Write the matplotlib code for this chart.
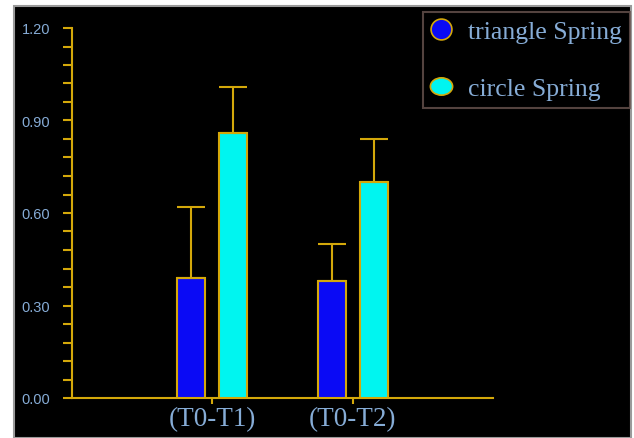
import matplotlib
matplotlib.use("Agg")
import matplotlib.pyplot as plt
from matplotlib.patches import Rectangle
from matplotlib.lines import Line2D
from matplotlib.path import Path
from matplotlib.transforms import Affine2D
import numpy as np

categories = ["(T0-T1)", "(T0-T2)"]
series_names = ["triangle Spring", "circle Spring"]
triangle_vals = [0.39, 0.38]
triangle_err = [0.23, 0.12]
circle_vals = [0.86, 0.70]
circle_err = [0.15, 0.14]
y_ticks = [0.0, 0.3, 0.6, 0.9, 1.2]
y_tick_labels = ["0.00", "0.30", "0.60", "0.90", "1.20"]

GOLD = "#d4a80a"
LABEL = "#86acd6"

W, H = 634, 439
fig = plt.figure(figsize=(W / 100, H / 100), dpi=100, facecolor="white")
fig.patches.append(Rectangle((14 / W, 0), (631 - 14) / W, 1 - 7 / H,
                             transform=fig.transFigure, facecolor="black",
                             edgecolor="#9a9a9a", linewidth=1.5, zorder=-10))

ax = fig.add_axes([72 / W, 1 - 399 / H, (493 - 72) / W, (399 - 29) / H])
ax.set_zorder(5)
ax.set_facecolor("none")
x = np.arange(1, len(categories) + 1)
w = 0.2
off = 0.15
ax.bar(x - off, triangle_vals, w, color="#0a0af5", edgecolor=GOLD, linewidth=1.5,
       yerr=[[0] * len(x), triangle_err], error_kw=dict(ecolor=GOLD, elinewidth=1.5,
       capsize=10, capthick=1.5), zorder=3)
ax.bar(x + off, circle_vals, w, color="#00f5f0", edgecolor=GOLD, linewidth=1.5,
       yerr=[[0] * len(x), circle_err], error_kw=dict(ecolor=GOLD, elinewidth=1.5,
       capsize=10, capthick=1.5), zorder=3)

ax.set_xlim(0, 3)
ax.set_ylim(0, 1.2)
ax.set_xticks(x)
ax.set_xticklabels(categories, family="Liberation Serif", fontsize=19.5, color=LABEL)
ax.set_yticks(y_ticks)
ax.set_yticklabels(y_tick_labels, family="Liberation Sans", fontsize=10.5, color=LABEL)
ax.set_yticks(np.arange(0, 1.2001, 0.06), minor=True)
ax.tick_params(axis="y", which="both", direction="out", length=6.5, width=1.5, color=GOLD, pad=9)
ax.tick_params(axis="x", which="both", direction="out", length=4, width=1.5, color=GOLD, pad=2)
for s in ["top", "right"]:
    ax.spines[s].set_visible(False)
for s in ["left", "bottom"]:
    ax.spines[s].set_color(GOLD)
    ax.spines[s].set_linewidth(1.5)

ellipse = Path.unit_circle().transformed(Affine2D().scale(1.0, 0.78))
handles = [Line2D([], [], linestyle="none", marker="o", markersize=15,
                  markerfacecolor="#0a0af5", markeredgecolor=GOLD, markeredgewidth=1.2),
           Line2D([], [], linestyle="none", marker=ellipse, markersize=16,
                  markerfacecolor="#00f5f0", markeredgecolor=GOLD, markeredgewidth=1.2)]
leg = fig.legend(handles, series_names, loc="upper right",
                 bbox_to_anchor=(630 / W, 1 - 13 / H), frameon=True, fancybox=False,
                 prop=dict(family="Liberation Serif", size=18.5), labelcolor=LABEL,
                 facecolor="black", edgecolor="#6a5550", borderpad=0.3,
                 labelspacing=1.35, handletextpad=0.65, handlelength=0.8, borderaxespad=0)
leg.get_frame().set_linewidth(1.5)

fig.savefig("out.png", dpi=100, facecolor="white")
